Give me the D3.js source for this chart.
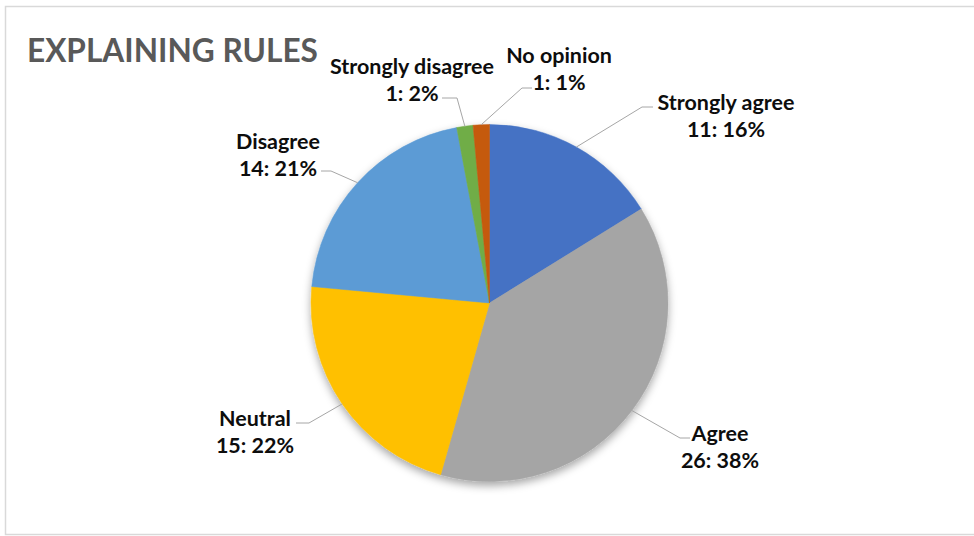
<!DOCTYPE html>
<html>
<head>
<meta charset="utf-8">
<script src="https://cdn.jsdelivr.net/npm/d3@7"></script>
<style>
  html, body { margin: 0; padding: 0; background: #ffffff; }
  svg { display: block; }
</style>
</head>
<body>
<svg id="chart" width="974" height="536"></svg>
<script>
// ---- data ----
const categories = ["Strongly agree", "Agree", "Neutral", "Disagree", "Strongly disagree", "No opinion"];
const counts = [11, 26, 15, 14, 1, 1];
const percentLabels = ["16%", "38%", "22%", "21%", "2%", "1%"];
const colors = ["#4472C4", "#A5A5A5", "#FFC000", "#5B9BD5", "#70AD47", "#C55A11"];
const title = "EXPLAINING RULES";

// ---- layout ----
const W = 974, H = 536;
const cx = 489.5, cy = 303, R = 178.5;
// label anchor (center x, first-line center y) and leader elbow points
const labelLayout = [
  { x: 726, y: 102, elbow: [642, 107], end: [653, 107] },
  { x: 720, y: 433, elbow: [680, 438], end: [690, 438] },
  { x: 255, y: 418, elbow: [309, 423], end: [296, 423] },
  { x: 278, y: 141, elbow: [331, 171], end: [321, 171] },
  { x: 412, y: 66,  elbow: [457, 98],  end: [442, 98] },
  { x: 559, y: 55,  elbow: [522, 88],  end: [532, 88] }
];
const lineGap = 27;

const svg = d3.select("#chart");
const font = "Lato, 'Open Sans', 'Liberation Sans', sans-serif";

// frame
svg.append("rect")
  .attr("x", 5.5).attr("y", 6.5).attr("width", 975).attr("height", 528)
  .attr("fill", "#ffffff").attr("stroke", "#d9d9d9").attr("stroke-width", 1.5);

// shadow filter
const defs = svg.append("defs");
const f = defs.append("filter").attr("id", "shadow")
  .attr("x", "-20%").attr("y", "-20%").attr("width", "140%").attr("height", "140%");
f.append("feDropShadow").attr("dx", 0).attr("dy", 4).attr("stdDeviation", 4)
  .attr("flood-color", "#000").attr("flood-opacity", 0.35);

// title
const t = svg.append("text")
  .attr("x", 27).attr("y", 50)
  .attr("dominant-baseline", "central")
  .attr("font-family", font).attr("font-weight", 700)
  .attr("font-size", 33).attr("fill", "#595959")
  .text(title);
(function fit(sel, target) {
  const w = sel.node().getComputedTextLength();
  const fs = parseFloat(sel.attr("font-size"));
  sel.attr("font-size", fs * target / w);
})(t, 291);

// pie
const pie = d3.pie().sort(null).value(d => d)(counts);
const arc = d3.arc().innerRadius(0).outerRadius(R);
const g = svg.append("g").attr("transform", `translate(${cx},${cy})`);
g.append("g").attr("filter", "url(#shadow)")
  .selectAll("path").data(pie).join("path")
  .attr("d", arc)
  .attr("fill", (d, i) => colors[i])
  .attr("stroke", (d, i) => colors[i]).attr("stroke-width", 0.5);

// leader lines
const edgeArc = d3.arc().innerRadius(R).outerRadius(R);
svg.append("g").selectAll("polyline").data(pie).join("polyline")
  .attr("points", (d, i) => {
    const c = edgeArc.centroid(d);
    const L = labelLayout[i];
    return [[cx + c[0], cy + c[1]], L.elbow, L.end].map(p => p.join(",")).join(" ");
  })
  .attr("fill", "none").attr("stroke", "#a6a6a6").attr("stroke-width", 1);

// labels
const lbl = svg.append("g").selectAll("text").data(pie).join("text")
  .attr("text-anchor", "middle")
  .attr("font-family", font).attr("font-weight", 700)
  .attr("font-size", 19).attr("fill", "#0d0d0d");
const first = lbl.append("tspan")
  .attr("x", (d, i) => labelLayout[i].x)
  .attr("y", (d, i) => labelLayout[i].y)
  .attr("dominant-baseline", "central")
  .text((d, i) => categories[i]);
lbl.append("tspan")
  .attr("x", (d, i) => labelLayout[i].x)
  .attr("y", (d, i) => labelLayout[i].y + lineGap)
  .attr("dominant-baseline", "central")
  .text((d, i) => `${counts[i]}: ${percentLabels[i]}`);
// scale label font so "Strongly agree" spans ~137px like the reference
const refW = first.nodes()[0].getComputedTextLength();
lbl.attr("font-size", 19 * 137 / refW);
</script>
</body>
</html>
